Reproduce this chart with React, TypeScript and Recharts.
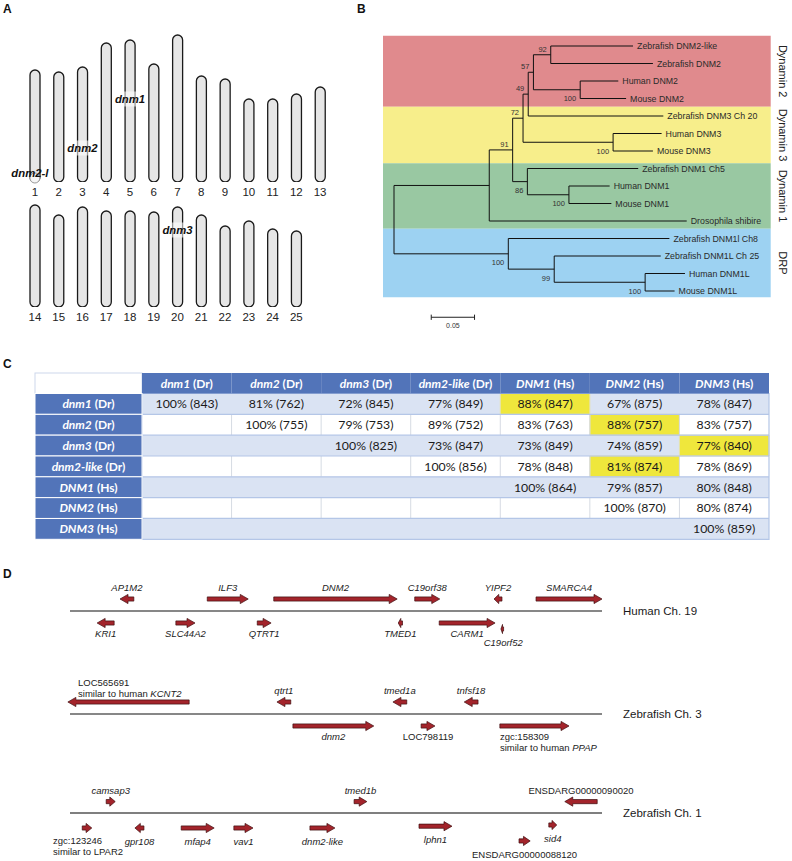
import React from 'react';
import {
  BarChart,
  Bar,
  XAxis,
  YAxis,
  ComposedChart,
  Scatter,
  ReferenceLine,
  ReferenceArea,
  ReferenceDot,
} from 'recharts';

const SANS = '"Liberation Sans", Arial, Helvetica, sans-serif';
const TABLE_FONT = 'Lato, "Open Sans", sans-serif';

// ---------- A: zebrafish karyotype ----------
const chromTop = ['1', '2', '3', '4', '5', '6', '7', '8', '9', '10', '11', '12', '13'];
const chromTopLen = [112, 110, 115, 139, 142, 118, 147, 106, 103, 83, 83, 88, 95];
const chromBottom = ['14', '15', '16', '17', '18', '19', '20', '21', '22', '23', '24', '25'];
const chromBottomLen = [102, 92, 100, 96, 96, 95, 100, 92, 81, 86, 78, 76];

const lociTop = [
  { gene: 'dnm1', chr: '5', pos: 83 },
  { gene: 'dnm2', chr: '3', pos: 34 },
  { gene: 'dnm2-l', chr: '1', pos: 9 },
];
const lociBottom = [{ gene: 'dnm3', chr: '20', pos: 77 }];

// ---------- B: neighbour-joining tree ----------
const leafNames = [
  'Zebrafish DNM2-like',
  'Zebrafish DNM2',
  'Human DNM2',
  'Mouse DNM2',
  'Zebrafish DNM3 Ch 20',
  'Human DNM3',
  'Mouse DNM3',
  'Zebrafish DNM1 Ch5',
  'Human DNM1',
  'Mouse DNM1',
  'Drosophila shibire',
  'Zebrafish DNM1l Ch8',
  'Zebrafish DNM1L Ch 25',
  'Human DNM1L',
  'Mouse DNM1L',
];
const leafDepth = [0.276, 0.299, 0.259, 0.268, 0.311, 0.309, 0.299, 0.282, 0.249, 0.251, 0.338, 0.318, 0.308, 0.336, 0.324];

const treeNodes = [
  { id: 'n92', depth: 0.181, support: '92', side: 'above', children: ['Zebrafish DNM2-like', 'Zebrafish DNM2'] },
  { id: 'hsDNM2', depth: 0.215, support: '100', side: 'below', children: ['Human DNM2', 'Mouse DNM2'] },
  { id: 'n57', depth: 0.161, support: '57', side: 'above', children: ['n92', 'hsDNM2'] },
  { id: 'n49', depth: 0.155, support: '49', side: 'above', children: ['n57', 'Zebrafish DNM3 Ch 20'] },
  { id: 'hsDNM3', depth: 0.253, support: '100', side: 'below', children: ['Human DNM3', 'Mouse DNM3'] },
  { id: 'n72', depth: 0.149, support: '72', side: 'above', children: ['n49', 'hsDNM3'] },
  { id: 'hsDNM1', depth: 0.202, support: '100', side: 'below', children: ['Human DNM1', 'Mouse DNM1'] },
  { id: 'n86', depth: 0.154, support: '86', side: 'below', children: ['Zebrafish DNM1 Ch5', 'hsDNM1'] },
  { id: 'n91', depth: 0.137, support: '91', side: 'above', children: ['n72', 'n86'] },
  { id: 'dyn', depth: 0.11, support: '', side: 'above', children: ['n91', 'Drosophila shibire'] },
  { id: 'hsDNM1L', depth: 0.29, support: '100', side: 'below', children: ['Human DNM1L', 'Mouse DNM1L'] },
  { id: 'n99', depth: 0.185, support: '99', side: 'below', children: ['Zebrafish DNM1L Ch 25', 'hsDNM1L'] },
  { id: 'drp', depth: 0.132, support: '100', side: 'below', children: ['Zebrafish DNM1l Ch8', 'n99'] },
  { id: 'root', depth: 0, support: '', side: 'above', children: ['dyn', 'drp'] },
];

const cladeNames = ['Dynamin 2', 'Dynamin 3', 'Dynamin 1', 'DRP'];
const cladeSpan = [
  [-0.59, 3.47],
  [3.47, 6.7],
  [6.7, 10.44],
  [10.44, 14.36],
];
const cladeColors = ['#e08a8d', '#f7ee8b', '#99c8a2', '#9dd2f2'];

// ---------- C: identity table ----------
const colGenes = ['dnm1', 'dnm2', 'dnm3', 'dnm2-like', 'DNM1', 'DNM2', 'DNM3'];
const colSpecies = ['Dr', 'Dr', 'Dr', 'Dr', 'Hs', 'Hs', 'Hs'];
const identityPct = [
  [100, 81, 72, 77, 88, 67, 78],
  [null, 100, 79, 89, 83, 88, 83],
  [null, null, 100, 73, 73, 74, 77],
  [null, null, null, 100, 78, 81, 78],
  [null, null, null, null, 100, 79, 80],
  [null, null, null, null, null, 100, 80],
  [null, null, null, null, null, null, 100],
];
const alignedLen = [
  [843, 762, 845, 849, 847, 875, 847],
  [null, 755, 753, 752, 763, 757, 757],
  [null, null, 825, 847, 849, 859, 840],
  [null, null, null, 856, 848, 874, 869],
  [null, null, null, null, 864, 857, 848],
  [null, null, null, null, null, 870, 874],
  [null, null, null, null, null, null, 859],
];
const bestHits = [
  [0, 4],
  [1, 5],
  [2, 6],
  [3, 5],
];

// ---------- D: synteny ----------
const humanGenes = [
  { name: 'AP1M2', start: 9.4, end: 12.0, strand: -1, lane: 1 },
  { name: 'ILF3', start: 25.8, end: 33.5, strand: 1, lane: 1 },
  { name: 'DNM2', start: 38.3, end: 61.5, strand: 1, lane: 1 },
  { name: 'C19orf38', start: 64.8, end: 69.5, strand: 1, lane: 1 },
  { name: 'YIPF2', start: 79.7, end: 81.2, strand: -1, lane: 1 },
  { name: 'SMARCA4', start: 87.6, end: 100, strand: 1, lane: 1 },
  { name: 'KRI1', start: 5.1, end: 8.3, strand: -1, lane: -1 },
  { name: 'SLC44A2', start: 19.9, end: 23.5, strand: 1, lane: -1 },
  { name: 'QTRT1', start: 35.2, end: 37.8, strand: 1, lane: -1 },
  { name: 'TMED1', start: 61.7, end: 62.5, strand: -1, lane: -1 },
  { name: 'CARM1', start: 69.4, end: 79.9, strand: 1, lane: -1 },
  { name: 'C19orf52', start: 81.0, end: 81.5, strand: -1, lane: -1.5 },
];
const zfCh3Genes = [
  { name: 'LOC565691', sub: ['similar to human ', 'KCNT2'], start: -0.4, end: 22.4, strand: -1, lane: 1 },
  { name: 'qtrt1', start: 38.9, end: 41.5, strand: -1, lane: 1 },
  { name: 'tmed1a', start: 60.7, end: 63.3, strand: -1, lane: 1 },
  { name: 'tnfsf18', start: 74.1, end: 76.7, strand: -1, lane: 1 },
  { name: 'dnm2', start: 41.9, end: 57.1, strand: 1, lane: -1 },
  { name: 'LOC798119', start: 66.0, end: 68.6, strand: 1, lane: -1 },
  { name: 'zgc:158309', sub: ['similar to human ', 'PPAP'], start: 80.8, end: 93.8, strand: 1, lane: -1 },
];
const zfCh1Genes = [
  { name: 'camsap3', start: 6.8, end: 8.5, strand: 1, lane: 0.95 },
  { name: 'tmed1b', start: 53.4, end: 55.8, strand: 1, lane: 0.95 },
  { name: 'ENSDARG00000090020', start: 93.0, end: 99.1, strand: -1, lane: 0.95 },
  { name: 'zgc:123246', sub: ['similar to LPAR2', ''], start: 2.3, end: 4.1, strand: 1, lane: -1.25 },
  { name: 'gpr108', start: 12.2, end: 13.9, strand: -1, lane: -1.25 },
  { name: 'mfap4', start: 20.9, end: 27.1, strand: 1, lane: -1.25 },
  { name: 'vav1', start: 30.8, end: 34.4, strand: 1, lane: -1.25 },
  { name: 'dnm2-like', start: 45.1, end: 49.8, strand: 1, lane: -1.25 },
  { name: 'lphn1', start: 65.6, end: 71.8, strand: 1, lane: -1.1 },
  { name: 'sid4', start: 90.0, end: 91.5, strand: 1, lane: -1.0 },
  { name: 'ENSDARG00000088120', start: 84.4, end: 86.5, strand: 1, lane: -2.33 },
];

// label placement tweaks (px, relative to the arrow centre)
const labelTweaks: Record<string, { dx: number; dy: number; anchor: string }> = {
  LOC565691: { dx: -50.5, dy: -19, anchor: 'start' },
  'zgc:158309': { dx: -34.5, dy: 11, anchor: 'start' },
  'zgc:123246': { dx: -34, dy: 13, anchor: 'start' },
  C19orf52: { dx: 1, dy: 14, anchor: 'middle' },
};

const HEADER_BLUE = '#5274b9';
const ROW_BLUE = '#dae3f3';
const GRID_BLUE = '#b4c6e7';
const HIT_YELLOW = '#efe73c';

const PanelLetter = ({ x, y, t }: { x: number; y: number; t: string }) => (
  <div
    style={{
      position: 'absolute',
      left: x,
      top: y - 7,
      lineHeight: '14px',
      fontSize: 12,
      fontWeight: 'bold',
      fontFamily: SANS,
      color: '#111',
    }}
  >
    {t}
  </div>
);

// ---------- A ----------
function ChromRow({ names, lens, loci, marginRight }: any) {
  const data = names.map((chr: string, i: number) => ({ chr, len: lens[i] }));
  return (
    <BarChart width={360} height={210} data={data} margin={{ top: 32, right: marginRight, left: 23, bottom: 0 }} barCategoryGap={0}>
      <XAxis
        dataKey="chr"
        axisLine={false}
        tickLine={false}
        tickSize={4}
        interval={0}
        height={28}
        tick={{ fontSize: 11.5, fill: '#222', fontFamily: SANS }}
      />
      <YAxis hide domain={[0, 150]} allowDataOverflow />
      <Bar dataKey="len" barSize={10} radius={5} fill="#e6e6e6" stroke="#1a1a1a" strokeWidth={1.3} isAnimationActive={false} />
      {loci.map((l: any) =>
        l.gene === 'dnm2-l' ? (
          <ReferenceDot key={l.gene + 'c'} x={l.chr} y={4} r={5} fill="#f6f6f6" stroke="#999" strokeWidth={1} />
        ) : null
      )}
      {loci.map((l: any) => (
        <ReferenceDot
          key={l.gene}
          x={l.chr}
          y={l.pos}
          r={0}
          shape={(p: any) => {
            const dx = l.gene === 'dnm2-l' ? -5 : 0;
            return (
              <g>
                {l.gene !== 'dnm2-l' && (
                  <rect x={p.cx - 7} y={p.cy - 7.5} width={14} height={15} fill="#fff" fillOpacity={0.55} />
                )}
                <text
                  x={p.cx + dx}
                  y={p.cy + 4}
                  textAnchor="middle"
                  fontSize={11.3}
                  fontWeight="bold"
                  fontStyle="italic"
                  fontFamily={SANS}
                  fill="#111"
                >
                  {l.gene}
                </text>
              </g>
            );
          }}
        />
      ))}
    </BarChart>
  );
}

// ---------- B ----------
function buildTree() {
  const xOf: Record<string, number> = {};
  const yOf: Record<string, number> = {};
  leafNames.forEach((n, i) => {
    xOf[n] = leafDepth[i];
    yOf[n] = i;
  });
  const branches: { x1: number; y1: number; x2: number; y2: number }[] = [];
  const supports: any[] = [];
  treeNodes.forEach((nd) => {
    const ys = nd.children.map((c) => yOf[c]);
    xOf[nd.id] = nd.depth;
    yOf[nd.id] = (Math.min(...ys) + Math.max(...ys)) / 2;
    branches.push({ x1: nd.depth, y1: Math.min(...ys), x2: nd.depth, y2: Math.max(...ys) });
    nd.children.forEach((c) => branches.push({ x1: nd.depth, y1: yOf[c], x2: xOf[c], y2: yOf[c] }));
    if (nd.support) supports.push({ x: nd.depth, y: yOf[nd.id], label: nd.support, side: nd.side });
  });
  const leaves = leafNames.map((n, i) => ({ x: leafDepth[i], y: i, label: n }));
  return { branches, supports, leaves };
}

function TreePanel() {
  const { branches, supports, leaves } = buildTree();
  return (
    <ComposedChart width={432} height={340} margin={{ top: 28.5, right: 8.3, left: 16.68, bottom: 14 }}>
      <XAxis type="number" dataKey="x" hide domain={[-0.02, 0.45]} allowDataOverflow />
      <YAxis type="number" dataKey="y" hide reversed domain={[-1, 16]} allowDataOverflow />
      {cladeNames.map((name, i) => (
        <ReferenceArea
          key={name}
          x1={-0.0127}
          x2={0.435}
          y1={cladeSpan[i][0]}
          y2={cladeSpan[i][1]}
          fill={cladeColors[i]}
          fillOpacity={1}
          stroke="none"
          label={(p: any) => {
            const vb = p.viewBox;
            const x = vb.x + vb.width + 12;
            const y = vb.y + vb.height / 2;
            return (
              <text
                x={x}
                y={y}
                transform={`rotate(90 ${x} ${y})`}
                textAnchor="middle"
                dy="0.35em"
                fontSize={11}
                fontFamily={SANS}
                fill="#222"
              >
                {name}
              </text>
            );
          }}
        />
      ))}
      {branches.map((b, i) => (
        <ReferenceLine
          key={i}
          segment={[
            { x: b.x1, y: b.y1 },
            { x: b.x2, y: b.y2 },
          ]}
          stroke="#111"
          strokeWidth={1}
        />
      ))}
      <Scatter
        data={leaves}
        isAnimationActive={false}
        shape={(p: any) => (
          <text x={p.cx + 4} y={p.cy + 3.2} fontSize={8.8} fontFamily={SANS} fill="#2a2a2a">
            {p.payload.label}
          </text>
        )}
      />
      <Scatter
        data={supports}
        isAnimationActive={false}
        shape={(p: any) => (
          <text
            x={p.cx - 4}
            y={p.payload.side === 'above' ? p.cy - 3 : p.cy + 11.5}
            textAnchor="end"
            fontSize={7.5}
            fontFamily={SANS}
            fill="#333"
          >
            {p.payload.label}
          </text>
        )}
      />
      {/* scale bar: 0.05 substitutions/site */}
      <ReferenceLine segment={[{ x: 0.043, y: 15.5 }, { x: 0.093, y: 15.5 }]} stroke="#222" strokeWidth={1} />
      <ReferenceLine segment={[{ x: 0.043, y: 15.35 }, { x: 0.043, y: 15.65 }]} stroke="#222" strokeWidth={1} />
      <ReferenceLine segment={[{ x: 0.093, y: 15.35 }, { x: 0.093, y: 15.65 }]} stroke="#222" strokeWidth={1} />
      <ReferenceDot
        x={0.068}
        y={15.5}
        r={0}
        shape={(p: any) => (
          <text x={p.cx} y={p.cy + 11} textAnchor="middle" fontSize={7} fontFamily={SANS} fill="#333">
            0.05
          </text>
        )}
      />
    </ComposedChart>
  );
}

// ---------- C ----------
const COL_W = 627 / 7;
const ROW_H = 145.8 / 7;
const T_TOP = 13;
const HEAD_H = 20.5;

function HeaderTick(p: any) {
  const i = Math.round(p.payload.value - 0.5);
  return (
    <g>
      {i === 0 && <rect x={35} y={T_TOP} width={107} height={HEAD_H} fill="#fff" stroke="#cdd8ec" strokeWidth={1} />}
      <rect x={p.x - COL_W / 2} y={T_TOP} width={COL_W} height={HEAD_H} fill={HEADER_BLUE} />
      <text x={p.x} y={T_TOP + 14.5} textAnchor="middle" fill="#fff" fontWeight="bold" fontSize={12} fontFamily={TABLE_FONT}>
        <tspan fontStyle="italic">{colGenes[i]}</tspan>
        <tspan> ({colSpecies[i]})</tspan>
      </text>
    </g>
  );
}

function RowTick(p: any) {
  const i = Math.round(p.payload.value - 0.5);
  return (
    <g>
      <rect x={35} y={p.y - ROW_H / 2} width={107} height={ROW_H} fill={HEADER_BLUE} stroke="#fff" strokeWidth={1} />
      <text x={88.5} y={p.y + 4.3} textAnchor="middle" fill="#fff" fontWeight="bold" fontSize={12} fontFamily={TABLE_FONT}>
        <tspan fontStyle="italic">{colGenes[i]}</tspan>
        <tspan> ({colSpecies[i]})</tspan>
      </text>
    </g>
  );
}

function IdentityTable() {
  const cells: any[] = [];
  identityPct.forEach((row, r) =>
    row.forEach((v, c) => {
      if (v !== null) cells.push({ x: c + 0.5, y: r + 0.5, text: `${v}% (${alignedLen[r][c]})` });
    })
  );
  const mids = [0.5, 1.5, 2.5, 3.5, 4.5, 5.5, 6.5];
  return (
    <ComposedChart width={792} height={190} margin={{ top: T_TOP, right: 23, left: 35, bottom: 10.7 }}>
      <XAxis
        type="number"
        dataKey="x"
        orientation="top"
        domain={[0, 7]}
        ticks={mids}
        interval={0}
        height={HEAD_H}
        axisLine={false}
        tickLine={false}
        tick={HeaderTick}
        allowDataOverflow
      />
      <YAxis
        type="number"
        dataKey="y"
        reversed
        domain={[0, 7]}
        ticks={mids}
        interval={0}
        width={107}
        axisLine={false}
        tickLine={false}
        tick={RowTick}
        allowDataOverflow
      />
      {[0, 2, 4, 6].map((r) => (
        <ReferenceArea key={'b' + r} x1={0} x2={7} y1={r} y2={r + 1} fill={ROW_BLUE} fillOpacity={1} stroke="none" />
      ))}
      {[1, 3, 5].map((r) =>
        [1, 2, 3, 4, 5, 6].map((c) => (
          <ReferenceLine
            key={`v${r}-${c}`}
            segment={[
              { x: c, y: r },
              { x: c, y: r + 1 },
            ]}
            stroke="#d6dbe3"
            strokeWidth={1}
          />
        ))
      )}
      {bestHits.map(([r, c]) => (
        <ReferenceArea key={`h${r}`} x1={c} x2={c + 1} y1={r} y2={r + 1} fill={HIT_YELLOW} fillOpacity={1} stroke="#e6e3b0" />
      ))}
      {[1, 2, 3, 4, 5, 6].map((r) => (
        <ReferenceLine key={'h' + r} y={r} stroke={GRID_BLUE} strokeWidth={1.2} />
      ))}
      <ReferenceArea x1={0} x2={7} y1={0} y2={7} fill="none" stroke={GRID_BLUE} strokeWidth={1.2} />
      <Scatter
        data={cells}
        isAnimationActive={false}
        shape={(p: any) => (
          <text x={p.cx} y={p.cy + 4.3} textAnchor="middle" fontSize={12.3} fontFamily={TABLE_FONT} fill="#1a1a1a">
            {p.payload.text}
          </text>
        )}
      />
    </ComposedChart>
  );
}

// ---------- D ----------
function GeneArrow({ x, y, width, height, strand }: any) {
  const cy = y + height / 2;
  const head = Math.min(8, width * 0.6);
  const sh = 2.1;
  const hh = 4.6;
  let pts: number[][];
  if (strand > 0) {
    const xb = x + width - head;
    pts = [
      [x, cy - sh],
      [xb, cy - sh],
      [xb, cy - hh],
      [x + width, cy],
      [xb, cy + hh],
      [xb, cy + sh],
      [x, cy + sh],
    ];
  } else {
    const xb = x + head;
    pts = [
      [x + width, cy - sh],
      [xb, cy - sh],
      [xb, cy - hh],
      [x, cy],
      [xb, cy + hh],
      [xb, cy + sh],
      [x + width, cy + sh],
    ];
  }
  return <polygon points={pts.map((q) => q.join(',')).join(' ')} fill="#a3242b" stroke="#3d0d0f" strokeWidth={0.7} />;
}

const isPlainName = (n: string) => /^(LOC|zgc|ENSDARG)/.test(n);

function GeneLabel(p: any) {
  const g = p.payload;
  const tw = labelTweaks[g.name];
  const above = g.lane > 0;
  const dy = tw ? tw.dy : above ? -11.5 : p.belowDy;
  const dx = tw ? tw.dx : 0;
  const anchor: any = tw ? tw.anchor : 'middle';
  const x = p.cx + dx;
  const y = p.cy + dy + 3.4;
  return (
    <g fontFamily={SANS} fontSize={9.5} fill="#222">
      <text x={x} y={y} textAnchor={anchor} fontStyle={isPlainName(g.name) ? 'normal' : 'italic'}>
        {g.name}
      </text>
      {g.sub && (
        <text x={x} y={y + 11} textAnchor={anchor}>
          {g.sub[0]}
          <tspan fontStyle="italic">{g.sub[1]}</tspan>
        </text>
      )}
    </g>
  );
}

// x domain is wider than the drawn chromosome (0..100) so labels near the ends are not clipped
function TrackChart({ genes, name, lineColor, lineWidth, belowDy }: any) {
  const pts = genes.map((g: any) => ({ ...g, x: (g.start + g.end) / 2, y: g.lane }));
  return (
    <ComposedChart width={792} height={90} margin={{ top: 0, right: 94.24, left: 6.16, bottom: 0 }}>
      <XAxis type="number" dataKey="x" hide domain={[-12, 118]} allowDataOverflow />
      <YAxis type="number" dataKey="y" hide domain={[-4, 3.5]} allowDataOverflow />
      <ReferenceLine
        segment={[
          { x: 0, y: 0 },
          { x: 100, y: 0 },
        ]}
        stroke={lineColor}
        strokeWidth={lineWidth}
      />
      <ReferenceDot
        x={100}
        y={0}
        r={0}
        shape={(p: any) => (
          <text x={p.cx + 21} y={p.cy + 4} fontSize={11.5} fontFamily={SANS} fill="#1a1a1a">
            {name}
          </text>
        )}
      />
      {genes.map((g: any) => (
        <ReferenceArea
          key={g.name}
          x1={g.start}
          x2={g.end}
          y1={g.lane - 0.4}
          y2={g.lane + 0.4}
          shape={(p: any) => <GeneArrow {...p} strand={g.strand} />}
        />
      ))}
      <Scatter data={pts} isAnimationActive={false} shape={(p: any) => <GeneLabel {...p} belowDy={belowDy} />} />
    </ComposedChart>
  );
}

export default function App() {
  return (
    <div
      style={{
        position: 'absolute',
        left: 0,
        top: 0,
        width: 792,
        height: 861,
        background: '#fff',
        overflow: 'hidden',
        fontFamily: SANS,
      }}
    >
      <div style={{ position: 'absolute', left: 0, top: 0 }}>
        <ChromRow names={chromTop} lens={chromTopLen} loci={lociTop} marginRight={28} />
      </div>
      <div style={{ position: 'absolute', left: 0, top: 125 }}>
        <ChromRow names={chromBottom} lens={chromBottomLen} loci={lociBottom} marginRight={51.8} />
      </div>
      <div style={{ position: 'absolute', left: 360, top: 0 }}>
        <TreePanel />
      </div>
      <div style={{ position: 'absolute', left: 0, top: 360 }}>
        <IdentityTable />
      </div>
      <div style={{ position: 'absolute', left: 0, top: 569 }}>
        <TrackChart genes={humanGenes} name="Human Ch. 19" lineColor="#111" lineWidth={1.2} belowDy={11} />
      </div>
      <div style={{ position: 'absolute', left: 0, top: 672 }}>
        <TrackChart genes={zfCh3Genes} name="Zebrafish Ch. 3" lineColor="#111" lineWidth={1.2} belowDy={11} />
      </div>
      <div style={{ position: 'absolute', left: 0, top: 771 }}>
        <TrackChart genes={zfCh1Genes} name="Zebrafish Ch. 1" lineColor="#555" lineWidth={1.6} belowDy={13.5} />
      </div>
      <PanelLetter x={3} y={9} t="A" />
      <PanelLetter x={357} y={9} t="B" />
      <PanelLetter x={3} y={364} t="C" />
      <PanelLetter x={3} y={574} t="D" />
    </div>
  );
}
